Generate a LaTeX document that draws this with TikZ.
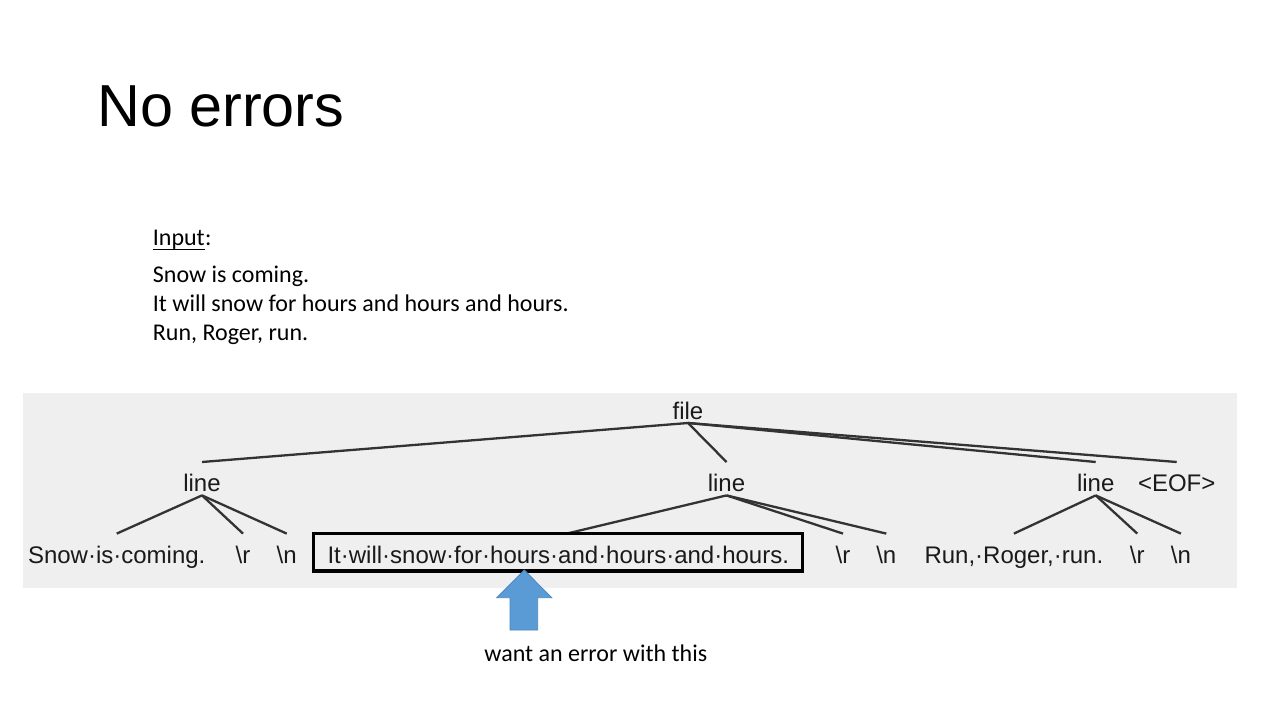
\documentclass[tikz,border=0pt]{standalone}
\usepackage{fontspec}
\setmainfont{Carlito}
\newfontfamily\arialf{Liberation Sans}
\definecolor{bggray}{HTML}{EFEFEF}
\definecolor{arrowblue}{HTML}{5B9BD5}
\definecolor{arrowedge}{HTML}{4A86C0}
\definecolor{edgegray}{HTML}{333333}
\definecolor{treetext}{HTML}{1A1A1A}
\begin{document}
\begin{tikzpicture}[x=1pt,y=-1pt,
  tn/.style={font=\arialf\fontsize{24}{28}\selectfont, inner sep=0pt,
    text height=29.5pt, text depth=3.5pt, anchor=base, text=treetext},
  tedge/.style={draw=edgegray, line width=2.3pt},
  body/.style={font=\fontsize{24}{29}\selectfont, inner sep=0pt, anchor=base west}]
\useasboundingbox (0,0) rectangle (1280,720);
\fill[white] (0,0) rectangle (1280,720);

% title
\node[anchor=base west, inner sep=0pt, font=\arialf\fontsize{59.3}{70}\selectfont] (title) at (97,126.7) {No errors};

% input
\node[body] (inp) at (152.7,245) {Input};
\node[body] (colon) at (inp.base east) {:};
\draw[line width=1.5pt] ([yshift=-4.3pt]inp.base west) -- ([yshift=-4.3pt]inp.base east);
\node[body] (l1) at (152.7,282.7) {Snow is coming.};
\node[body] (l2) at (152.7,311.7) {It will snow for hours and hours and hours.};
\node[body] (l3) at (152.7,340.7) {Run, Roger, run.};

% tree background
\fill[bggray] (22.7,392.7) rectangle (1236.7,588.3);

% tree nodes
\node[tn] (file) at (688,419.3) {file};
\node[tn] (lineA) at (202,491.7) {line};
\node[tn] (lineB) at (726.5,491.7) {line};
\node[tn] (lineC) at (1095.7,491.7) {line};
\node[tn] (eof) at (1176.7,491.7) {<EOF>};

\node[tn] (snow) at (116.7,563.3) {Snow·is·coming.};
\node[tn] (rA) at (243,563.3) {\textbackslash r};
\node[tn] (nA) at (286.7,563.3) {\textbackslash n};
\node[tn] (itw) at (558.3,563.3) {It·will·snow·for·hours·and·hours·and·hours.};
\node[tn] (rB) at (843,563.3) {\textbackslash r};
\node[tn] (nB) at (886.3,563.3) {\textbackslash n};
\node[tn] (run) at (1013.9,563.3) {Run,·Roger,·run.};
\node[tn] (rC) at (1137.3,563.3) {\textbackslash r};
\node[tn] (nC) at (1180.9,563.3) {\textbackslash n};

% edges
\draw[tedge] (file.south) -- (lineA.north);
\draw[tedge] (file.south) -- (lineB.north);
\draw[tedge] (file.south) -- (lineC.north);
\draw[tedge] (file.south) -- (eof.north);

\draw[tedge] (lineA.south) -- (snow.north);
\draw[tedge] (lineA.south) -- (rA.north);
\draw[tedge] (lineA.south) -- (nA.north);

\draw[tedge] (lineB.south) -- ([xshift=8.4pt]itw.north);
\draw[tedge] (lineB.south) -- (rB.north);
\draw[tedge] (lineB.south) -- (nB.north);

\draw[tedge] (lineC.south) -- (run.north);
\draw[tedge] (lineC.south) -- (rC.north);
\draw[tedge] (lineC.south) -- (nC.north);

% highlight box
\draw[line width=3.2pt, black] (313.3,533.3) rectangle (802.3,571);

% block arrow
\draw[fill=arrowblue, draw=arrowedge, line width=0.8pt, line join=miter]
  (524.3,570) -- (551.7,597.7) -- (537.7,597.7) -- (537.7,630) -- (510,630)
  -- (510,597.7) -- (496.7,597.7) -- cycle;

% caption
\node[anchor=base, inner sep=0pt, font=\fontsize{24}{29}\selectfont] (cap) at (595.8,661.7) {want an error with this};
\end{tikzpicture}
\end{document}
